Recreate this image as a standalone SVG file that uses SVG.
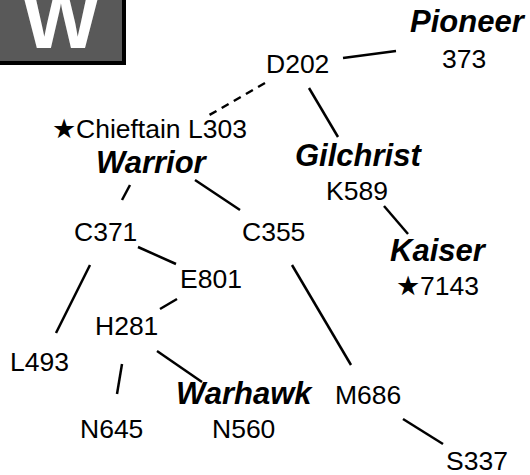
<svg xmlns="http://www.w3.org/2000/svg" width="530" height="475" viewBox="0 0 530 475">
<style>
.t{font-family:"Liberation Sans",Arial,sans-serif;font-size:26.5px;fill:#000}
.b{font-family:"Liberation Sans",Arial,sans-serif;font-size:31px;font-weight:bold;font-style:italic;fill:#000}
.e{stroke:#000;stroke-width:2.5;fill:none}
.d{stroke-dasharray:8 6}
</style>
<rect width="530" height="475" fill="#fff"/>
<g id="logo">
<rect x="0" y="0" width="126" height="65" fill="#000"/>
<rect x="0" y="0" width="122" height="61" fill="#595959"/>
<text x="61" y="48" text-anchor="middle" font-family="Liberation Sans,Arial,sans-serif" font-size="82" font-weight="bold" fill="#fff">W</text>
</g>
<g id="connectors">
<line class="e" x1="343" y1="58" x2="396" y2="51"/>
<line class="e d" x1="265" y1="83" x2="206" y2="117"/>
<line class="e" x1="309" y1="88" x2="338" y2="137"/>
<line class="e" x1="130" y1="185" x2="122" y2="200"/>
<line class="e" x1="195" y1="180" x2="240" y2="210"/>
<line class="e" x1="384" y1="206" x2="408" y2="234"/>
<line class="e" x1="138" y1="247" x2="176" y2="264"/>
<line class="e" x1="90" y1="265" x2="56" y2="333"/>
<line class="e" x1="177" y1="299" x2="160" y2="309"/>
<line class="e" x1="122" y1="364" x2="117" y2="394"/>
<line class="e" x1="157" y1="351" x2="202" y2="382"/>
<line class="e" x1="292" y1="265" x2="351" y2="365"/>
<line class="e" x1="403" y1="419" x2="443" y2="444"/>
</g>
<g id="pioneer"><text class="b" x="410" y="32">Pioneer</text><text class="t" x="442" y="68">373</text></g>
<g id="d202"><text class="t" x="266" y="73">D202</text></g>
<g id="l303"><text class="t" x="52" y="138">★Chieftain L303</text></g>
<g id="warrior"><text class="b" x="96" y="173">Warrior</text></g>
<g id="gilchrist"><text class="b" x="295" y="166">Gilchrist</text></g>
<g id="k589"><text class="t" x="326" y="200">K589</text></g>
<g id="kaiser"><text class="b" x="390" y="261">Kaiser</text><text class="t" x="396" y="295">★7143</text></g>
<g id="c371"><text class="t" x="74" y="241">C371</text></g>
<g id="c355"><text class="t" x="242" y="241">C355</text></g>
<g id="e801"><text class="t" x="180" y="288">E801</text></g>
<g id="h281"><text class="t" x="95" y="335">H281</text></g>
<g id="l493"><text class="t" x="10" y="371">L493</text></g>
<g id="n645"><text class="t" x="80" y="438">N645</text></g>
<g id="warhawk"><text class="b" x="176" y="404">Warhawk</text><text class="t" x="212" y="438">N560</text></g>
<g id="m686"><text class="t" x="335" y="404">M686</text></g>
<g id="s337"><text class="t" x="446" y="470">S337</text></g>
</svg>
